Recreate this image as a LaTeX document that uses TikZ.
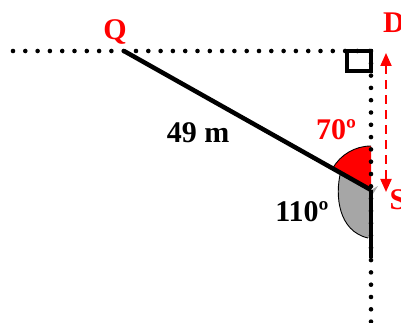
\documentclass[tikz,border=0pt]{standalone}
\usepackage{fontspec}
\setmainfont{Liberation Serif}
\usetikzlibrary{arrows.meta,calc}
\begin{document}
\begin{tikzpicture}[x=1pt,y=1pt,
  dotline/.style={line width=4.6pt,dash pattern=on 0pt off 12.3pt,line cap=round},
  thick line/.style={line width=4.5pt},
  lbl/.style={font=\fontsize{30}{36}\selectfont\bfseries,inner sep=0pt,anchor=base},
  redlbl/.style={lbl,text=red}]
\useasboundingbox (0,0) rectangle (401,323);
\coordinate (Q) at (124,272);
\coordinate (S) at (371,133);
\coordinate (L) at (13,272);
\coordinate (C) at (371,272);
\coordinate (B) at (371,0);
\coordinate (E) at (371,65);
\coordinate (A1) at (386,270);
\coordinate (A2) at (386,131);
% sectors
\fill[gray!70] (S) -- (340.5,150.2) .. controls (335,128) and (338,92) .. (368,85) -- (371,85) -- cycle;
\draw[line width=0.9pt] (340.5,150.2) .. controls (335,128) and (338,92) .. (368,85);
\fill[gray!70] (S) -- (378,137) -- (371,126) -- cycle;
\fill[red] (S) -- ++(90:44) arc[start angle=90,end angle=150.6,radius=44] -- cycle;
\draw[line width=0.9pt] ($(S)+(90:44)$) arc[start angle=90,end angle=150.6,radius=44];
% dotted lines
\draw[dotline] (L) -- (C);
\draw[dotline] (C) -- (B);
% right angle
\draw[line width=4pt] (347,252) rectangle (371,272);
% main lines
\draw[thick line] (Q) -- (S);
\draw[thick line] (S) -- (E);
% arrow
\draw[red,line width=2pt,dash pattern=on 9pt off 6pt,{Triangle[length=13pt,width=11pt]}-{Triangle[length=13pt,width=11pt]}] (A1) -- (A2);
% labels
\node[redlbl] (q) at (115,283) {Q};
\node[redlbl] (d) at (394,290) {D};
\node[redlbl] (s) at (398,113) {S};
\node[redlbl] (a70) at (336,183) {70º};
\node[lbl] (a110) at (302,101) {110º};
\node[lbl] (len) at (198,180) {49 m};
\end{tikzpicture}
\end{document}
